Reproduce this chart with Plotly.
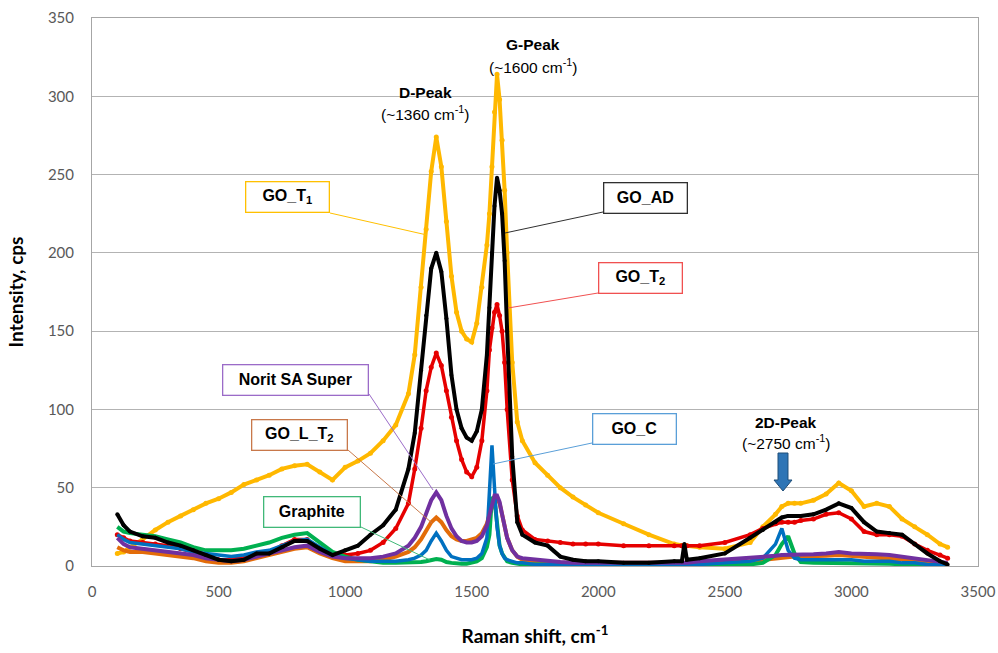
import plotly.graph_objects as go

# ---------------- data ----------------
raman_shift = [100, 125, 150, 200, 250, 300, 350, 400, 450, 500, 550, 600, 650, 700, 750, 800, 850, 900, 950,
               1000, 1050, 1100, 1150, 1200, 1250, 1275, 1300, 1320, 1340, 1360, 1380, 1400, 1420, 1440, 1460,
               1480, 1500, 1520, 1540, 1560, 1570, 1580, 1590, 1600, 1610, 1620, 1630, 1640, 1660, 1680, 1700,
               1750, 1800, 1850, 1900, 1950, 2000, 2100, 2200, 2300, 2330, 2340, 2350, 2400, 2500, 2600, 2650,
               2700, 2725, 2750, 2775, 2800, 2850, 2900, 2950, 3000, 3050, 3100, 3150, 3200, 3250, 3300, 3350, 3380]

go_t1 = [8, 9, 12, 17, 23, 28, 32, 36, 40, 43, 47, 52, 55, 58, 62, 64, 65, 60, 55,
         63, 67, 72, 80, 90, 110, 135, 178, 215, 252, 274, 255, 220, 185, 162, 150,
         145, 143, 155, 178, 205, 225, 255, 290, 314, 298, 272, 240, 200, 130, 92, 80,
         66, 58, 50, 44, 39, 34, 27, 20, 14, 13, 13, 13, 12, 11, 15, 25,
         33, 38, 40, 40, 40, 42, 46, 53, 48, 38, 40, 38, 30, 25, 20, 14, 12]

go_ad = [33, 26, 22, 19, 18, 15, 13, 10, 7, 4, 3, 4, 8, 8, 12, 16, 16, 11, 7,
         10, 13, 20, 26, 36, 62, 85, 125, 160, 190, 200, 188, 158, 122, 100, 88,
         82, 80, 86, 100, 135, 165, 200, 230, 248, 240, 225, 195, 150, 70, 28, 20,
         15, 13, 6, 4, 3, 3, 2, 2, 3, 3, 14, 4, 5, 8, 18, 23,
         28, 31, 32, 32, 32, 33, 36, 40, 37, 28, 22, 21, 20, 14, 8, 3, 1]

go_t2 = [20, 18, 16, 15, 14, 13, 11, 9, 6, 4, 4, 6, 8, 9, 13, 17, 17, 11, 8,
         7, 8, 10, 15, 24, 40, 62, 88, 112, 127, 136, 128, 112, 95, 80, 68,
         60, 57, 63, 80, 112, 138, 152, 162, 167, 160, 150, 130, 100, 55, 32, 23,
         17, 16, 15, 14, 14, 14, 13, 13, 13, 13, 13, 13, 13, 15, 20, 24,
         27, 28, 28, 28, 29, 30, 33, 34, 30, 22, 20, 20, 19, 14, 10, 7, 5]

go_c = [20, 17, 15, 14, 13, 12, 11, 9, 8, 7, 6, 7, 9, 10, 13, 16, 17, 12, 7,
        5, 4, 3, 3, 3, 4, 5, 7, 10, 16, 21, 16, 10, 6, 5, 4,
        4, 4, 5, 8, 18, 45, 77, 50, 25, 13, 8, 5, 4, 3, 2, 2,
        1, 1, 1, 1, 1, 1, 1, 1, 1, 1, 1, 1, 1, 2, 3, 5,
        14, 24, 10, 5, 4, 4, 4, 4, 4, 3, 3, 3, 2, 2, 1, 1, 0.5]

norit = [18, 14, 12, 11, 10, 9, 8, 7, 5, 4, 3, 4, 6, 8, 10, 12, 13, 9, 6,
         5, 5, 5, 6, 8, 13, 18, 25, 33, 42, 47, 42, 32, 24, 19, 16,
         15, 15, 16, 19, 26, 32, 40, 45, 45, 41, 33, 25, 18, 10, 6, 5,
         4, 3, 2.5, 2, 2, 2, 2, 2, 2, 2, 2, 2, 3, 4, 5, 6,
         6.5, 7, 7, 7, 7, 7.5, 8, 9, 8, 8, 7.5, 7, 6, 5, 4, 3, 2]

go_l_t2 = [12, 10, 9, 9, 8, 7, 6, 5, 3, 2, 2, 3, 5, 7, 9, 11, 12, 8, 5,
           3, 3, 3, 4, 6, 9, 12, 17, 22, 28, 31, 28, 23, 19, 17, 16,
           16, 17, 18, 21, 27, 33, 38, 42, 43, 40, 33, 25, 18, 10, 6, 4,
           3, 2, 2, 2, 2, 2, 2, 2, 2, 2, 2, 2, 2, 2, 3, 4,
           5, 5.5, 6, 6, 6, 6, 6.5, 7, 6.5, 6, 5.5, 5, 4.5, 4, 3, 2, 1.5]

graphite = [25, 22, 21, 20, 19, 17, 15, 12, 10, 10, 10, 11, 13, 15, 18, 20, 21, 15, 9,
            6, 4, 3, 2, 2, 2, 2, 2.5, 3, 4, 4.5, 4, 2.5, 2, 1.5, 1.5,
            1.5, 2, 3, 5, 12, 20, 44, 42, 25, 13, 8, 5, 3, 2, 1.5, 1,
            1, 1, 1, 1, 1, 1, 1, 1, 1, 1, 1, 1, 1, 1, 1, 2,
            7, 14, 19, 8, 2.5, 2, 2, 2, 2, 1.5, 1.5, 1.5, 1, 1, 1, 0.5, 0.5]

x_ticks = [0, 500, 1000, 1500, 2000, 2500, 3000, 3500]
y_ticks = [0, 50, 100, 150, 200, 250, 300, 350]

# ---------------- figure ----------------
W, H = 998, 653
L, R, T, B = 92, 20, 18, 87
PW, PH = W - L - R, H - T - B


def px(x):
    return (x - L) / PW


def py(y):
    return (H - B - y) / PH


fig = go.Figure()

series = [
    ("GO_T1", go_t1, "#FFB800", 4, 5),
    ("GO_T2", go_t2, "#E60000", 3.5, 5),
    ("GO_L_T2", go_l_t2, "#E36C09", 4, 0),
    ("Graphite", graphite, "#00B050", 4, 0),
    ("GO_C", go_c, "#0070C0", 3.5, 0),
    ("Norit SA Super", norit, "#7030A0", 4, 0),
    ("GO_AD", go_ad, "#000000", 4, 4),
]
for name, ys, col, lw, ms in series:
    fig.add_trace(go.Scatter(
        x=raman_shift, y=ys, name=name,
        mode="lines+markers" if ms else "lines",
        line=dict(color=col, width=lw),
        marker=dict(color=col, size=ms),
        showlegend=False, hoverinfo="skip",
    ))

tick_font = dict(family="Lato, Carlito, Calibri, sans-serif", size=15, color="#595959")
title_font = dict(family="Lato, Carlito, Calibri, sans-serif", size=19, color="#000000")

fig.update_layout(
    width=W, height=H,
    margin=dict(l=L, r=R, t=T, b=B, autoexpand=False),
    paper_bgcolor="white", plot_bgcolor="white",
    xaxis=dict(range=[0, 3500], tickvals=x_ticks, ticktext=[str(v) for v in x_ticks],
               showgrid=False, zeroline=False, showline=True, linecolor="#A6A6A6",
               linewidth=1, mirror=True, ticks="", tickfont=tick_font, ticklabelstandoff=12,
               automargin=False,
               title=dict(text="<b>Raman shift, cm<sup>-1</sup></b>", font=title_font, standoff=30)),
    yaxis=dict(range=[0, 350], tickvals=y_ticks, ticktext=[str(v) for v in y_ticks],
               showgrid=True, gridcolor="#B3B3B3", gridwidth=1, zeroline=False,
               showline=True, linecolor="#A6A6A6", linewidth=1, mirror=True, ticks="",
               tickfont=tick_font, ticklabelstandoff=14, automargin=False,
               title=dict(text="<b>Intensity, cps</b>", font=title_font, standoff=19)),
)

box_font = dict(family="Arial, Liberation Sans, sans-serif", size=16, color="#000000")

# labelled boxes: text, center px, size, border colour, leader line (from px -> to px)
boxes = [
    ("<b>GO_T<sub>1</sub></b>", (287.5, 197), (85, 32), "#FFC000", (330, 213), (427, 235)),
    ("<b>GO_AD</b>", (645.5, 198), (85, 32), "#303030", (603, 212), (505, 233)),
    ("<b>GO_T<sub>2</sub></b>", (640.5, 278), (85, 32), "#F05050", (598, 293), (508, 308)),
    ("<b>Norit SA Super</b>", (295.5, 380), (147, 32), "#9B6BC8", (369, 394), (433, 490)),
    ("<b>GO_L_T<sub>2</sub></b>", (299.5, 435), (97, 32), "#C8784A", (348, 450), (432, 523)),
    ("<b>Graphite</b>", (312, 512), (98, 32), "#40B878", (361, 527), (430, 560)),
    ("<b>GO_C</b>", (634.5, 429), (85, 32), "#5A9FD8", (592, 443), (493, 464)),
]
for text, (cx, cy), (bw, bh), bc, p0, p1 in boxes:
    fig.add_shape(type="line", xref="paper", yref="paper",
                  x0=px(p0[0]), y0=py(p0[1]), x1=px(p1[0]), y1=py(p1[1]),
                  line=dict(color=bc, width=1))
    fig.add_annotation(xref="paper", yref="paper", x=px(cx), y=py(cy), text=text,
                       showarrow=False, font=box_font, bgcolor="white",
                       bordercolor=bc, borderwidth=1.3, borderpad=0,
                       width=bw - 3, height=bh - 3, xanchor="center", yanchor="middle")

peak_font_b = dict(family="Arial, Liberation Sans, sans-serif", size=15.5, color="#000000")
peak_font = dict(family="Arial, Liberation Sans, sans-serif", size=15.5, color="#000000")
peaks = [
    ("D-Peak", "(~1360 cm<sup>-1</sup>)", 425, 92, 113),
    ("G-Peak", "(~1600 cm<sup>-1</sup>)", 533, 45, 66),
    ("2D-Peak", "(~2750 cm<sup>-1</sup>)", 786, 422, 442),
]
for t1, t2, cx, y1, y2 in peaks:
    fig.add_annotation(xref="paper", yref="paper", x=px(cx), y=py(y1), text="<b>%s</b>" % t1,
                       showarrow=False, font=peak_font_b, xanchor="center", yanchor="middle")
    fig.add_annotation(xref="paper", yref="paper", x=px(cx), y=py(y2), text=t2,
                       showarrow=False, font=peak_font, xanchor="center", yanchor="middle")

# block arrow pointing at the 2D peak
ax_c = 783
pts = [(ax_c - 5, 453), (ax_c + 5, 453), (ax_c + 5, 480), (ax_c + 9, 480), (ax_c, 491),
       (ax_c - 9, 480), (ax_c - 5, 480)]
path = "M " + " L ".join("%.5f,%.5f" % (px(a), py(b)) for a, b in pts) + " Z"
fig.add_shape(type="path", xref="paper", yref="paper", path=path,
              fillcolor="#2E75B6", line=dict(color="#1F4E79", width=1))

fig.write_html("out.html", config={"displayModeBar": False},
               post_script="document.body.style.margin='0';document.body.style.overflow='hidden';")
